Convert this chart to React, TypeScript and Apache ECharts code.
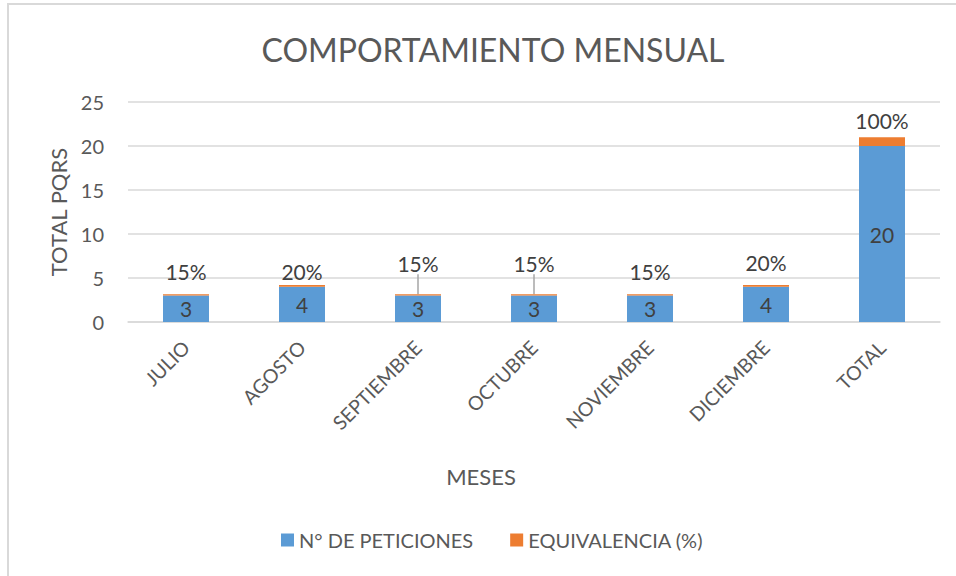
import React, { useEffect, useRef } from "react";
import * as echarts from "echarts";

const categories = ["JULIO", "AGOSTO", "SEPTIEMBRE", "OCTUBRE", "NOVIEMBRE", "DICIEMBRE", "TOTAL"];
const peticiones = [3, 4, 3, 3, 3, 4, 20];
const equivalencia = [0.15, 0.2, 0.15, 0.15, 0.15, 0.2, 1];
const yTicks = [0, 5, 10, 15, 20, 25];
const raisedLabels = [2, 3];

// label vertical nudges (layout style, per bar)
const labelDy = [0, 9, -8, -8, 0, 0, 6];

const FONT = "Lato, 'Open Sans', sans-serif";
const TXT = "#595959";

export default function App() {
  const ref = useRef<HTMLDivElement>(null);
  useEffect(() => {
    const chart = echarts.init(ref.current!, null, { renderer: "svg" });
    chart.setOption({
      animation: false,
      textStyle: { fontFamily: FONT },
      title: {
        text: "COMPORTAMIENTO MENSUAL",
        left: 488,
        textAlign: "center",
        top: 28,
        textStyle: { fontFamily: FONT, fontSize: 32, fontWeight: "normal", color: TXT },
      },
      graphic: [
        {
          type: "rect",
          shape: { x: 8, y: 4, width: 960, height: 600 },
          style: { fill: "none", stroke: "#d9d9d9", lineWidth: 2 },
          silent: true,
        },
        {
          type: "text",
          x: 481,
          y: 476,
          style: {
            text: "MESES",
            fontFamily: FONT,
            fontSize: 22,
            fill: TXT,
            align: "center",
            verticalAlign: "middle",
          },
          silent: true,
        },
      ],
      legend: {
        bottom: 21,
        left: 276,
        itemWidth: 13,
        itemHeight: 13,
        itemGap: 37,
        icon: "rect",
        textStyle: { fontFamily: FONT, fontSize: 20, color: TXT },
        data: ["N° DE PETICIONES", "EQUIVALENCIA (%)"],
      },
      grid: { left: 128, right: 16, top: 102, bottom: 254, containLabel: false },
      xAxis: {
        type: "category",
        data: categories,
        axisLine: { lineStyle: { color: "#d9d9d9", width: 1.5 } },
        axisTick: { show: false },
        axisLabel: { rotate: 45, fontFamily: FONT, fontSize: 19.5, color: TXT, margin: 22, interval: 0 },
      },
      yAxis: {
        type: "value",
        min: yTicks[0],
        max: yTicks[yTicks.length - 1],
        interval: 5,
        name: "TOTAL PQRS",
        nameLocation: "middle",
        nameGap: 58,
        nameTextStyle: { fontFamily: FONT, fontSize: 22, color: TXT },
        axisLine: { show: false },
        axisTick: { show: false },
        splitLine: { lineStyle: { color: "#d9d9d9", width: 1.5 } },
        axisLabel: { fontFamily: FONT, fontSize: 20, color: TXT, margin: 24 },
      },
      series: [
        {
          name: "N° DE PETICIONES",
          type: "bar",
          stack: "a",
          barWidth: 46,
          data: peticiones,
          itemStyle: { color: "#5b9bd5" },
          label: { show: true, position: "inside", fontFamily: FONT, fontSize: 21, color: "#404040" },
        },
        {
          name: "EQUIVALENCIA (%)",
          type: "bar",
          stack: "a",
          barWidth: 46,
          data: equivalencia.map((v, i) => ({
            value: v,
            labelLine: { show: raisedLabels.includes(i) },
          })),
          itemStyle: { color: "#ed7d31" },
          label: {
            show: true,
            position: "top",
            distance: 12,
            fontFamily: FONT,
            fontSize: 21,
            color: "#404040",
            formatter: (p: any) => Math.round(p.value * 100) + "%",
          },
          labelLine: { lineStyle: { color: "#a6a6a6", width: 1.5 } },
          labelLayout: (p: any) => ({ dy: labelDy[p.dataIndex] || 0 }),
        },
      ],
    });
    return () => chart.dispose();
  }, []);
  return <div ref={ref} style={{ position: "fixed", left: 0, top: 0, width: 956, height: 576, background: "#fff" }} />;
}
